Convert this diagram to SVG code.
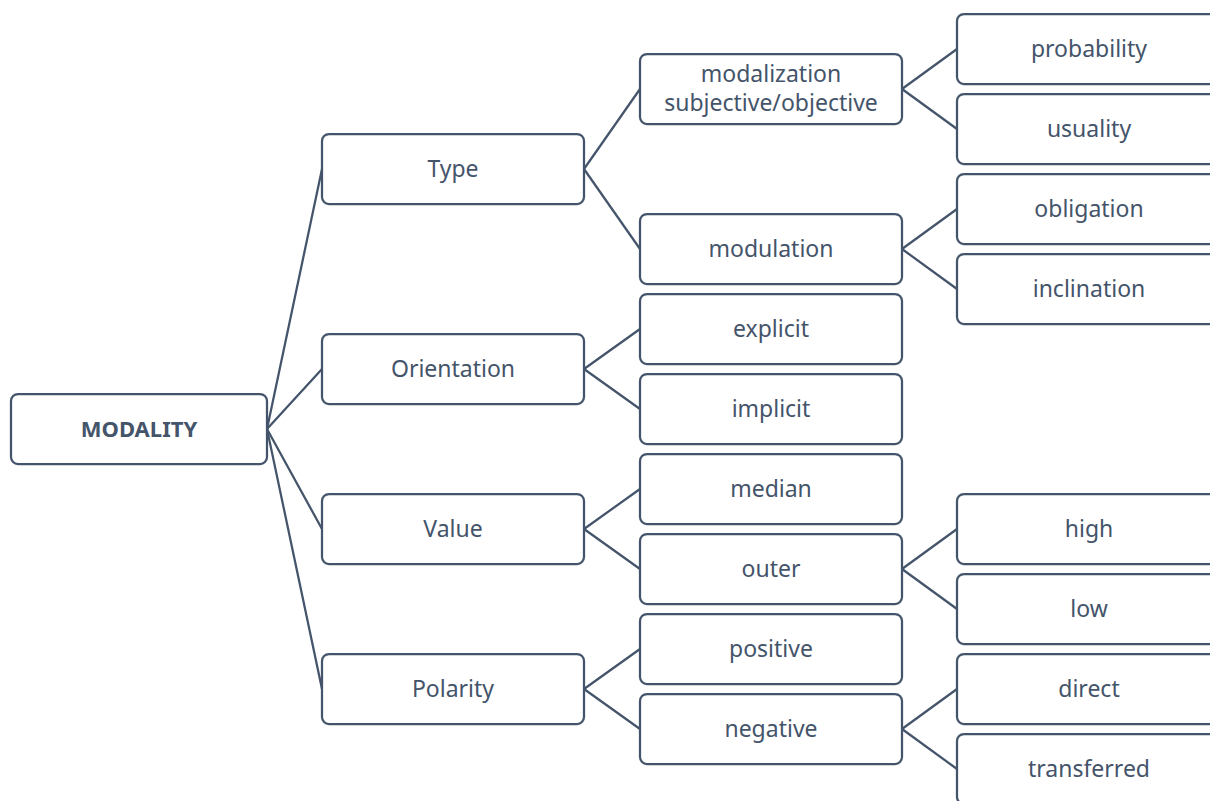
<svg xmlns="http://www.w3.org/2000/svg" width="1210" height="801" viewBox="0 0 1210 801">
  <style>
    .box { fill: #ffffff; stroke: #44546A; stroke-width: 2.25; }
    .lbl { font-family: "Noto Sans", "Open Sans", "Liberation Sans", sans-serif; font-size: 23px; fill: #44546A; text-anchor: middle; }
    .root { font-weight: bold; font-size: 22px; }
    .link { stroke: #44546A; stroke-width: 2.25; fill: none; stroke-linecap: round; }
  </style>
  <rect width="1210" height="801" fill="#ffffff"/>

  <!-- connectors -->
  <g id="connectors" class="link">
    <!-- root to first level -->
    <line x1="267" y1="429" x2="322" y2="169"/>
    <line x1="267" y1="429" x2="322" y2="369"/>
    <line x1="267" y1="429" x2="322" y2="529"/>
    <line x1="267" y1="429" x2="322" y2="689"/>
    <!-- first level to second level -->
    <line x1="584" y1="169" x2="640" y2="89"/>
    <line x1="584" y1="169" x2="640" y2="249"/>
    <line x1="584" y1="369" x2="640" y2="329"/>
    <line x1="584" y1="369" x2="640" y2="409"/>
    <line x1="584" y1="529" x2="640" y2="489"/>
    <line x1="584" y1="529" x2="640" y2="569"/>
    <line x1="584" y1="689" x2="640" y2="649"/>
    <line x1="584" y1="689" x2="640" y2="729"/>
    <!-- second level to third level -->
    <line x1="902" y1="89" x2="957" y2="49"/>
    <line x1="902" y1="89" x2="957" y2="129"/>
    <line x1="902" y1="249" x2="957" y2="209"/>
    <line x1="902" y1="249" x2="957" y2="289"/>
    <line x1="902" y1="569" x2="957" y2="529"/>
    <line x1="902" y1="569" x2="957" y2="609"/>
    <line x1="902" y1="729" x2="957" y2="689"/>
    <line x1="902" y1="729" x2="957" y2="769"/>
  </g>

  <!-- root -->
  <g id="modality">
    <rect class="box" x="11" y="394" width="256" height="70" rx="7"/>
    <text class="lbl root" x="139" y="437">MODALITY</text>
  </g>

  <!-- first level -->
  <g id="type">
    <rect class="box" x="322" y="134" width="262" height="70" rx="7"/>
    <text class="lbl" x="453" y="177">Type</text>
  </g>
  <g id="orientation">
    <rect class="box" x="322" y="334" width="262" height="70" rx="7"/>
    <text class="lbl" x="453" y="377">Orientation</text>
  </g>
  <g id="value">
    <rect class="box" x="322" y="494" width="262" height="70" rx="7"/>
    <text class="lbl" x="453" y="537">Value</text>
  </g>
  <g id="polarity">
    <rect class="box" x="322" y="654" width="262" height="70" rx="7"/>
    <text class="lbl" x="453" y="697">Polarity</text>
  </g>

  <!-- second level -->
  <g id="modalization">
    <rect class="box" x="640" y="54" width="262" height="70" rx="7"/>
    <text class="lbl" x="771" y="82">modalization</text>
    <text class="lbl" x="771" y="111">subjective/objective</text>
  </g>
  <g id="modulation">
    <rect class="box" x="640" y="214" width="262" height="70" rx="7"/>
    <text class="lbl" x="771" y="257">modulation</text>
  </g>
  <g id="explicit">
    <rect class="box" x="640" y="294" width="262" height="70" rx="7"/>
    <text class="lbl" x="771" y="337">explicit</text>
  </g>
  <g id="implicit">
    <rect class="box" x="640" y="374" width="262" height="70" rx="7"/>
    <text class="lbl" x="771" y="417">implicit</text>
  </g>
  <g id="median">
    <rect class="box" x="640" y="454" width="262" height="70" rx="7"/>
    <text class="lbl" x="771" y="497">median</text>
  </g>
  <g id="outer">
    <rect class="box" x="640" y="534" width="262" height="70" rx="7"/>
    <text class="lbl" x="771" y="577">outer</text>
  </g>
  <g id="positive">
    <rect class="box" x="640" y="614" width="262" height="70" rx="7"/>
    <text class="lbl" x="771" y="657">positive</text>
  </g>
  <g id="negative">
    <rect class="box" x="640" y="694" width="262" height="70" rx="7"/>
    <text class="lbl" x="771" y="737">negative</text>
  </g>

  <!-- third level -->
  <g id="probability">
    <rect class="box" x="957" y="14" width="264" height="70" rx="7"/>
    <text class="lbl" x="1089" y="57">probability</text>
  </g>
  <g id="usuality">
    <rect class="box" x="957" y="94" width="264" height="70" rx="7"/>
    <text class="lbl" x="1089" y="137">usuality</text>
  </g>
  <g id="obligation">
    <rect class="box" x="957" y="174" width="264" height="70" rx="7"/>
    <text class="lbl" x="1089" y="217">obligation</text>
  </g>
  <g id="inclination">
    <rect class="box" x="957" y="254" width="264" height="70" rx="7"/>
    <text class="lbl" x="1089" y="297">inclination</text>
  </g>
  <g id="high">
    <rect class="box" x="957" y="494" width="264" height="70" rx="7"/>
    <text class="lbl" x="1089" y="537">high</text>
  </g>
  <g id="low">
    <rect class="box" x="957" y="574" width="264" height="70" rx="7"/>
    <text class="lbl" x="1089" y="617">low</text>
  </g>
  <g id="direct">
    <rect class="box" x="957" y="654" width="264" height="70" rx="7"/>
    <text class="lbl" x="1089" y="697">direct</text>
  </g>
  <g id="transferred">
    <rect class="box" x="957" y="734" width="264" height="70" rx="7"/>
    <text class="lbl" x="1089" y="777">transferred</text>
  </g>
</svg>
